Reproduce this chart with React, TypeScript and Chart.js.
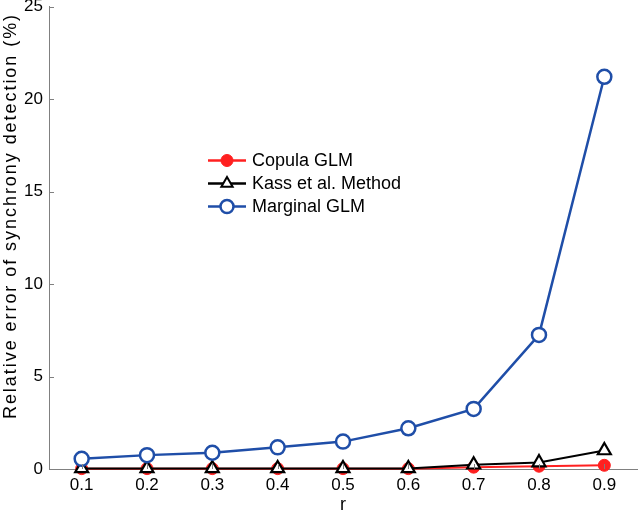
import React, { useEffect, useRef } from "react";
import { Chart, registerables } from "chart.js";

Chart.register(...registerables);

const rValues = [0.1, 0.2, 0.3, 0.4, 0.5, 0.6, 0.7, 0.8, 0.9];
const copulaGLM = [0.02, 0.02, 0.02, 0.02, 0.02, 0.02, 0.1, 0.15, 0.2];
const kassMethod = [0.03, 0.03, 0.03, 0.03, 0.03, 0.03, 0.23, 0.35, 1.0];
const marginalGLM = [0.55, 0.75, 0.88, 1.17, 1.48, 2.2, 3.25, 7.25, 21.2];
const xTicks = [0.1, 0.2, 0.3, 0.4, 0.5, 0.6, 0.7, 0.8, 0.9];
const yTicks = [0, 5, 10, 15, 20, 25];
const xTitle = "r";
const yTitle = "Relative error of synchrony detection (%)";
const X_MIN = 0.05;
const X_MAX = 0.95;

const RED = "#ff2020";
const BLACK = "#000000";
const BLUE = "#1f4ea8";
const AXIS = "#808080";
const FONT = "'Liberation Sans', Arial, sans-serif";

const legendItems = [
  { label: "Copula GLM", color: RED, style: "circle", fill: RED, r: 6, bw: 1 },
  { label: "Kass et al. Method", color: BLACK, style: "triangle", fill: "#ffffff", r: 6.5, bw: 2 },
  { label: "Marginal GLM", color: BLUE, style: "circle", fill: "#ffffff", r: 6.5, bw: 2.5 },
];

const toXY = (ys: number[]) => rValues.map((x, i) => ({ x, y: ys[i] }));

export default function App() {
  const ref = useRef<HTMLCanvasElement | null>(null);
  useEffect(() => {
    document.body.style.margin = "0";
    const ctx = ref.current!.getContext("2d")!;
    const extras = {
      id: "extras",
      afterDatasetsDraw(chart: any) {
        const c = chart.ctx;
        const xs = chart.scales.x;
        const ys = chart.scales.y;
        const area = chart.chartArea;
        c.save();
        c.strokeStyle = AXIS;
        c.lineWidth = 1;
        yTicks.forEach((v) => {
          const py = Math.round(ys.getPixelForValue(v)) + 0.5;
          c.beginPath();
          c.moveTo(area.left, py);
          c.lineTo(area.left + 5, py);
          c.stroke();
        });
        xTicks.forEach((v) => {
          const px = Math.round(xs.getPixelForValue(v)) + 0.5;
          c.beginPath();
          c.moveTo(px, area.bottom);
          c.lineTo(px, area.bottom - 5);
          c.stroke();
        });
        c.fillStyle = "#000";
        c.textAlign = "center";
        c.textBaseline = "middle";
        c.font = `18px ${FONT}`;
        c.fillText(xTitle, xs.getPixelForValue(0.5), 505);
        c.save();
        c.translate(11, 216);
        c.rotate(-Math.PI / 2);
        c.font = `18px ${FONT}`;
        const w = c.measureText(yTitle).width;
        const sp = Math.max(0, (404 - w) / (yTitle.length - 1));
        if ("letterSpacing" in c) {
          (c as any).letterSpacing = `${sp.toFixed(2)}px`;
        }
        c.textAlign = "left";
        const w2 = c.measureText(yTitle).width;
        c.fillText(yTitle, -w2 / 2, 0);
        c.restore();
        const lx = 208;
        let ly = 160.5;
        legendItems.forEach((it) => {
          c.strokeStyle = it.color;
          c.lineWidth = 2.5;
          c.beginPath();
          c.moveTo(lx, ly);
          c.lineTo(lx + 38, ly);
          c.stroke();
          const cx = lx + 19;
          c.lineWidth = it.bw;
          c.fillStyle = it.fill;
          c.beginPath();
          if (it.style === "circle") {
            c.arc(cx, ly, it.r, 0, Math.PI * 2);
          } else {
            c.moveTo(cx, ly - it.r);
            c.lineTo(cx + it.r * 0.87, ly + it.r * 0.5);
            c.lineTo(cx - it.r * 0.87, ly + it.r * 0.5);
            c.closePath();
          }
          c.fill();
          c.stroke();
          c.fillStyle = "#000";
          c.font = `18px ${FONT}`;
          c.textBaseline = "middle";
          c.textAlign = "left";
          c.fillText(it.label, lx + 44, ly + 1);
          ly += 23;
        });
        c.restore();
      },
    };
    const chart = new Chart(ctx, {
      type: "line",
      data: {
        datasets: [
          {
            label: "Copula GLM",
            data: toXY(copulaGLM),
            borderColor: RED,
            backgroundColor: RED,
            borderWidth: 2,
            pointStyle: "circle",
            pointRadius: 6,
            pointBorderWidth: 1,
            pointBackgroundColor: RED,
            pointBorderColor: RED,
            clip: false,
            order: 3,
          },
          {
            label: "Kass et al. Method",
            data: toXY(kassMethod),
            borderColor: BLACK,
            backgroundColor: "#ffffff",
            borderWidth: 2,
            pointStyle: "triangle",
            pointRadius: 7.5,
            pointBorderWidth: 2.2,
            pointBackgroundColor: "#ffffff",
            pointBorderColor: BLACK,
            clip: false,
            order: 2,
          },
          {
            label: "Marginal GLM",
            data: toXY(marginalGLM),
            borderColor: BLUE,
            backgroundColor: "#ffffff",
            borderWidth: 2.5,
            pointStyle: "circle",
            pointRadius: 7,
            pointBorderWidth: 2.5,
            pointBackgroundColor: "#ffffff",
            pointBorderColor: BLUE,
            clip: false,
            order: 1,
          },
        ],
      },
      options: {
        animation: false,
        responsive: false,
        maintainAspectRatio: false,
        layout: { autoPadding: false, padding: { top: 6.5, right: 3, left: 0, bottom: 0 } },
        plugins: { legend: { display: false }, tooltip: { enabled: false } },
        scales: {
          x: {
            type: "linear",
            min: X_MIN,
            max: X_MAX,
            afterBuildTicks: (s: any) => {
              s.ticks = xTicks.map((v) => ({ value: v }));
            },
            afterFit: (s: any) => {
              s.height = 43;
              s.paddingLeft = 0;
              s.paddingRight = 0;
            },
            grid: { display: false, drawTicks: false },
            border: { display: true, color: AXIS, width: 1 },
            ticks: {
              color: "#000",
              font: { family: FONT, size: 17 },
              padding: 6.5,
              callback: (v: any) => Number(v).toFixed(1),
              maxRotation: 0,
            },
            title: { display: false },
          },
          y: {
            type: "linear",
            min: 0,
            max: 25,
            afterBuildTicks: (s: any) => {
              s.ticks = yTicks.map((v) => ({ value: v }));
            },
            afterFit: (s: any) => {
              s.width = 49;
              s.paddingTop = 0;
              s.paddingBottom = 0;
            },
            grid: { display: false, drawTicks: false },
            border: { display: true, color: AXIS, width: 1 },
            ticks: {
              color: "#000",
              font: { family: FONT, size: 17 },
              padding: 6,
            },
            title: { display: false },
          },
        },
      },
      plugins: [extras],
    } as any);
    return () => chart.destroy();
  }, []);
  return (
    <div style={{ position: "absolute", left: 0, top: 0, width: 640, height: 512 }}>
      <canvas ref={ref} width={640} height={512} style={{ width: 640, height: 512 }} />
    </div>
  );
}
